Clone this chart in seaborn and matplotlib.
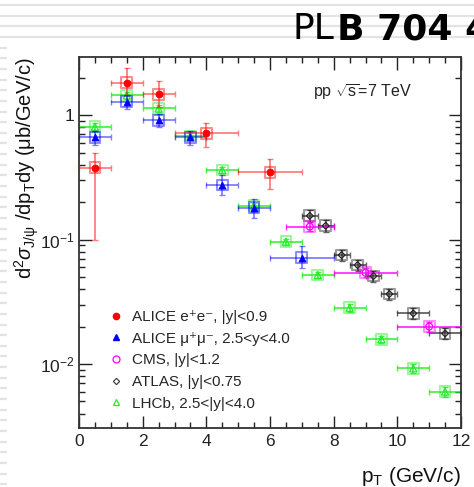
import numpy as np
import pandas as pd
import matplotlib
matplotlib.use("Agg")
import matplotlib.pyplot as plt
import seaborn as sns
from matplotlib.lines import Line2D
from matplotlib.ticker import LogLocator, MultipleLocator, FixedLocator, FixedFormatter, NullFormatter

# ---- data: J/psi differential cross section in pp at sqrt(s)=7 TeV ----
alice_ee_pt = [0.5, 1.5, 2.5, 4.0, 6.0]
alice_ee_xerr = [0.5, 0.5, 0.5, 1.0, 1.0]
alice_ee_y = [0.377, 1.82, 1.47, 0.713, 0.346]
alice_ee_lo = [0.100, 1.45, 1.17, 0.556, 0.253]
alice_ee_hi = [0.50, 2.37, 1.89, 0.870, 0.440]

alice_mm_pt = [0.5, 1.5, 2.5, 3.5, 4.5, 5.5, 7.0]
alice_mm_xerr = [0.5, 0.5, 0.5, 0.5, 0.5, 0.5, 1.0]
alice_mm_y = [0.662, 1.28, 0.91, 0.662, 0.274, 0.180, 0.0714]
alice_mm_lo = [0.58, 1.11, 0.797, 0.574, 0.228, 0.148, 0.0587]
alice_mm_hi = [0.75, 1.45, 1.02, 0.748, 0.330, 0.210, 0.0880]

cms_pt = [7.25, 9.0, 11.0]
cms_xlo = [0.75, 1.0, 1.0]
cms_xhi = [0.75, 1.0, 1.0]
cms_y = [0.127, 0.0542, 0.0200]
cms_rel = [0.08, 0.08, 0.09]

atlas_pt = [7.25, 7.75, 8.25, 8.75, 9.25, 9.75, 10.5, 11.5]
atlas_xerr = [0.25, 0.25, 0.25, 0.25, 0.25, 0.25, 0.5, 0.5]
atlas_y = [0.155, 0.129, 0.075, 0.0624, 0.0509, 0.0365, 0.0255, 0.0176]
atlas_rel = [0.11, 0.11, 0.10, 0.10, 0.10, 0.10, 0.10, 0.10]

lhcb_pt = [0.5, 1.5, 2.5, 3.5, 4.5, 5.5, 6.5, 7.5, 8.5, 9.5, 10.5, 11.5]
lhcb_xerr = [0.5] * 12
lhcb_y = [0.806, 1.44, 1.13, 0.68, 0.362, 0.187, 0.096, 0.0519, 0.0283, 0.0158, 0.00923, 0.0060]
lhcb_rel = [0.07, 0.07, 0.07, 0.06, 0.06, 0.06, 0.06, 0.06, 0.07, 0.07, 0.08, 0.09]

labels = [
    "ALICE e\u207ae\u207b, |y|<0.9",
    "ALICE \u03bc\u207a\u03bc\u207b, 2.5<y<4.0",
    "CMS, |y|<1.2",
    "ATLAS, |y|<0.75",
    "LHCb, 2.5<|y|<4.0",
]

sns.set_theme(style="ticks")
plt.rcParams["font.family"] = ["Liberation Sans", "DejaVu Sans"]
plt.rcParams["mathtext.fontset"] = "custom"
plt.rcParams["mathtext.rm"] = "Liberation Sans"
plt.rcParams["mathtext.it"] = "Liberation Sans:italic"
plt.rcParams["mathtext.bf"] = "Liberation Sans:bold"

W, H = 474, 487
fig = plt.figure(figsize=(W / 100, H / 100), dpi=100)
fig.patch.set_facecolor("white")

# faint ruled background of the page
for k in range(46):
    yy = 5 + 10.65 * k
    if yy > H:
        break
    x1 = W if k < 4 else 6
    fig.add_artist(Line2D([0, x1 / W], [1 - yy / H, 1 - yy / H], transform=fig.transFigure,
                          color="#e3e3e3", lw=1.6, zorder=0))

ax = fig.add_axes([79 / W, 1 - 428 / H, (461 - 79) / W, (428 - 57) / H])
ax.set_facecolor("white")


def frame(pt, y, lo, hi):
    return pd.DataFrame({"pt": pt, "y": y, "lo": lo, "hi": hi})


def draw_series(df, xlo, xhi, color, marker, filled, msize, alpha_err=0.5, z=3):
    yerr = [df["y"] - df["lo"], df["hi"] - df["y"]]
    ax.errorbar(df["pt"], df["y"], xerr=[xlo, xhi], yerr=yerr, fmt="none",
                ecolor=color, alpha=alpha_err, elinewidth=1.3, capsize=2.0,
                capthick=1.0, zorder=z)
    # systematic boxes
    sns.scatterplot(data=df, x="pt", y="y", marker="s", s=60, facecolor="none",
                    edgecolor=color, linewidth=1.5, alpha=0.45, ax=ax, zorder=z,
                    legend=False)
    if filled:
        sns.scatterplot(data=df, x="pt", y="y", marker=marker, s=msize, color=color,
                        edgecolor=color, linewidth=0.5, ax=ax, zorder=z + 1, legend=False)
    else:
        sns.scatterplot(data=df, x="pt", y="y", marker=marker, s=msize, facecolor="none",
                        edgecolor=color, linewidth=0.9, ax=ax, zorder=z + 1, legend=False)


def rel_frame(pt, y, rel):
    y = np.asarray(y)
    r = np.asarray(rel)
    return frame(pt, y, y * (1 - r), y * (1 + r))


draw_series(rel_frame(lhcb_pt, lhcb_y, lhcb_rel), lhcb_xerr, lhcb_xerr, "#22ee22", "^", False, 26, 0.8, 2)
draw_series(rel_frame(atlas_pt, atlas_y, atlas_rel), atlas_xerr, atlas_xerr, "#222222", "D", False, 12, 0.7, 3)
draw_series(rel_frame(cms_pt, cms_y, cms_rel), cms_xlo, cms_xhi, "#ff00ff", "o", False, 24, 0.8, 3)
draw_series(frame(alice_mm_pt, alice_mm_y, alice_mm_lo, alice_mm_hi), alice_mm_xerr, alice_mm_xerr, "#0000ff", "^", True, 26, 0.5, 4)
draw_series(frame(alice_ee_pt, alice_ee_y, alice_ee_lo, alice_ee_hi), alice_ee_xerr, alice_ee_xerr, "#ff0000", "o", True, 26, 0.5, 5)

ax.set_xlim(0, 12)
ax.set_yscale("log")
ax.set_ylim(3.06e-3, 2.93)

ax.xaxis.set_major_locator(MultipleLocator(2))
ax.xaxis.set_minor_locator(MultipleLocator(0.5))
ax.yaxis.set_major_locator(FixedLocator([1e-2, 1e-1, 1]))
ax.yaxis.set_major_formatter(FixedFormatter([r"$10^{-2}$", r"$10^{-1}$", "1"]))
ax.yaxis.set_minor_locator(LogLocator(base=10, subs=np.arange(2, 10)))
ax.yaxis.set_minor_formatter(NullFormatter())
ax.tick_params(which="both", direction="in", top=True, right=True, colors="#222222",
               labelsize=12.5, width=1.0)
ax.tick_params(which="major", length=9)
ax.tick_params(which="minor", length=4.5)
ax.tick_params(axis="x", pad=4)
ax.tick_params(axis="y", pad=3)
for s in ax.spines.values():
    s.set_linewidth(1.3)
    s.set_color("#333333")
ax.set_xlabel("")
ax.set_ylabel("")

# legend
handles = [
    Line2D([], [], ls="none", marker="o", ms=4.5, color="#ff0000"),
    Line2D([], [], ls="none", marker="^", ms=4.5, color="#0000ff"),
    Line2D([], [], ls="none", marker="o", ms=5, mfc="none", mec="#ff00ff", mew=0.9),
    Line2D([], [], ls="none", marker="D", ms=3.2, mfc="none", mec="#333333", mew=0.8),
    Line2D([], [], ls="none", marker="^", ms=5, mfc="none", mec="#22ee22", mew=0.9),
]
ax.legend(handles, labels, loc="lower left", bbox_to_anchor=(0.06, 0.03), frameon=False,
          fontsize=11, handletextpad=0.6, labelspacing=0.5, handlelength=1.0,
          borderaxespad=0)

ax.text(0.872, 0.905, r"pp $\sqrt{\rm s}$=7 TeV", transform=ax.transAxes, ha="right",
        va="center", fontsize=11.5, color="#222222")

fig.text(461 / W, 1 - 476 / H, r"p$_{\rm T}$ (GeV/c)", ha="right", va="center",
         fontsize=15, color="#111111")
fig.text(27 / W, 1 - 57 / H,
         r"d$^{2}\sigma_{\rm J/\psi}$ /dp$_{\rm T}$dy (μb/GeV/c)",
         rotation=90, ha="center", va="top", fontsize=14.5, color="#111111")

# journal tag in the top corner
fig.text(292 / W, 1 - 39 / H, "PL", ha="left", va="baseline",
         fontsize=26, color="black", family="DejaVu Sans")
fig.text(337 / W, 1 - 39 / H, "B 704 4", ha="left", va="baseline",
         fontsize=26, color="black", family="DejaVu Sans", fontweight="bold")

fig.savefig("out.png", dpi=100, facecolor="white")
